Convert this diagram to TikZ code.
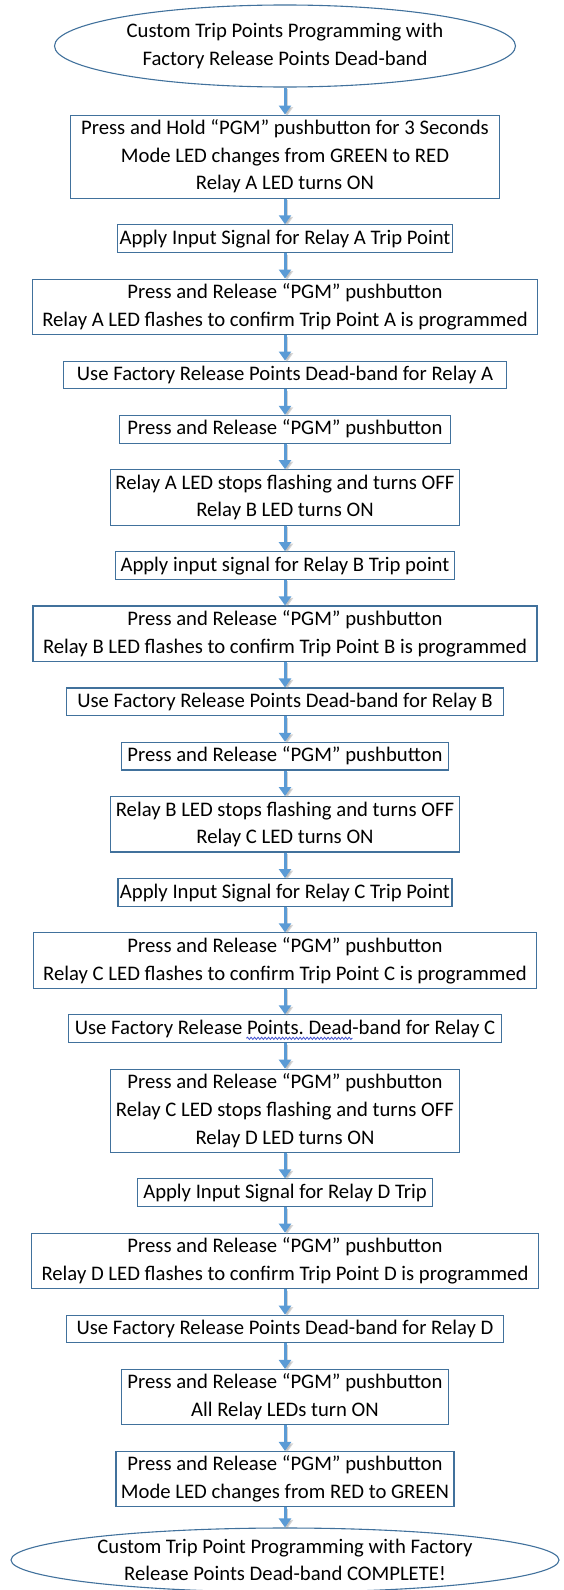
\documentclass[tikz,border=0pt]{standalone}
\usepackage{fontspec}
\setmainfont{Carlito}
\usepackage{tikz}
\usetikzlibrary{shapes.geometric}
\usetikzlibrary{positioning}
\usetikzlibrary{arrows.meta}
\usetikzlibrary{decorations.pathmorphing}
\definecolor{boxblue}{HTML}{41719C}
\definecolor{arrowblue}{HTML}{5B9BD5}
\definecolor{wavyblue}{HTML}{4050D0}

\begin{document}
\begin{tikzpicture}[x=1pt,y=1pt,node distance=25.5pt,font=\fontsize{20.7}{27.7}\selectfont]
    \tikzstyle stepbox=[draw=boxblue,line width=1.1pt,align=center,inner xsep=5pt,inner ysep=0pt,execute at end node=\strut]
    \tikzstyle terminal=[ellipse,draw=boxblue,line width=1.1pt,align=center,inner sep=0pt]
    \tikzstyle flowarrow=[draw=arrowblue,fill=arrowblue,line width=3pt,-{Triangle[length=9pt,width=12pt]},
        preaction={draw=black!45,fill=black!45,opacity=0.35,-{Triangle[length=9pt,width=12pt]},transform canvas={shift={(2pt,-1.5pt)}}}]
    \tikzstyle spellline=[wavyblue,line width=0.8pt,decorate,decoration={snake,amplitude=1.1pt,segment length=3.5pt}]
    \useasboundingbox (0,0) rectangle (563,-1590);
    \node[terminal,minimum width=461pt,minimum height=82pt] (start) at (285,-46) {Custom Trip Points Programming with\\Factory Release Points Dead-band};
    \node[stepbox,inner xsep=11pt,below=27pt of start] (holdpgm) {\strut Press and Hold “PGM” pushbutton for 3 Seconds\\Mode LED changes from GREEN to RED\\Relay A LED turns ON};
    \node[stepbox,inner xsep=2pt,below=of holdpgm] (applya) {\strut Apply Input Signal for Relay A Trip Point};
    \node[stepbox,inner xsep=10pt,below=of applya] (confirma) {\strut Press and Release “PGM” pushbutton\\Relay A LED flashes to confirm Trip Point A is programmed};
    \node[stepbox,inner xsep=13pt,below=of confirma] (deadbanda) {\strut Use Factory Release Points Dead-band for Relay A};
    \node[stepbox,inner xsep=8pt,below=of deadbanda] (releasea) {\strut Press and Release “PGM” pushbutton};
    \node[stepbox,below=of releasea] (switchb) {\strut Relay A LED stops flashing and turns OFF\\Relay B LED turns ON};
    \node[stepbox,below=of switchb] (applyb) {\strut Apply input signal for Relay B Trip point};
    \node[stepbox,inner xsep=10pt,below=of applyb] (confirmb) {\strut Press and Release “PGM” pushbutton\\Relay B LED flashes to confirm Trip Point B is programmed};
    \node[stepbox,inner xsep=11pt,below=of confirmb] (deadbandb) {\strut Use Factory Release Points Dead-band for Relay B};
    \node[stepbox,inner xsep=6pt,below=of deadbandb] (releaseb) {\strut Press and Release “PGM” pushbutton};
    \node[stepbox,below=of releaseb] (switchc) {\strut Relay B LED stops flashing and turns OFF\\Relay C LED turns ON};
    \node[stepbox,inner xsep=2pt,below=of switchc] (applyc) {\strut Apply Input Signal for Relay C Trip Point};
    \node[stepbox,inner xsep=10pt,below=of applyc] (confirmc) {\strut Press and Release “PGM” pushbutton\\Relay C LED flashes to confirm Trip Point C is programmed};
    \node[stepbox,inner xsep=6pt,below=of confirmc] (deadbandc) {\strut Use Factory Release Points.\ Dead-band for Relay C};
    \node[stepbox,below=of deadbandc] (switchd) {\strut Press and Release “PGM” pushbutton\\Relay C LED stops flashing and turns OFF\\Relay D LED turns ON};
    \node[stepbox,inner xsep=6pt,below=of switchd] (applyd) {\strut Apply Input Signal for Relay D Trip};
    \node[stepbox,inner xsep=10pt,below=of applyd] (confirmd) {\strut Press and Release “PGM” pushbutton\\Relay D LED flashes to confirm Trip Point D is programmed};
    \node[stepbox,inner xsep=10pt,below=of confirmd] (deadbandd) {\strut Use Factory Release Points Dead-band for Relay D};
    \node[stepbox,inner xsep=6pt,below=of deadbandd] (allon) {\strut Press and Release “PGM” pushbutton\\All Relay LEDs turn ON};
    \node[stepbox,below=of allon] (finish) {\strut Press and Release “PGM” pushbutton\\Mode LED changes from RED to GREEN};
    \node[terminal,minimum width=548pt,minimum height=64pt,inner ysep=-2pt,below=20pt of finish] (done) {Custom Trip Point Programming with Factory\\Release Points Dead-band COMPLETE!};
    % spell-check squiggle under "Points. Dead"
    \draw[spellline] ([xshift=-38.5pt,yshift=-4pt]deadbandc.base) -- ++(106,0);
    \draw[flowarrow] (start) -- (holdpgm);
    \draw[flowarrow] (holdpgm) -- (applya);
    \draw[flowarrow] (applya) -- (confirma);
    \draw[flowarrow] (confirma) -- (deadbanda);
    \draw[flowarrow] (deadbanda) -- (releasea);
    \draw[flowarrow] (releasea) -- (switchb);
    \draw[flowarrow] (switchb) -- (applyb);
    \draw[flowarrow] (applyb) -- (confirmb);
    \draw[flowarrow] (confirmb) -- (deadbandb);
    \draw[flowarrow] (deadbandb) -- (releaseb);
    \draw[flowarrow] (releaseb) -- (switchc);
    \draw[flowarrow] (switchc) -- (applyc);
    \draw[flowarrow] (applyc) -- (confirmc);
    \draw[flowarrow] (confirmc) -- (deadbandc);
    \draw[flowarrow] (deadbandc) -- (switchd);
    \draw[flowarrow] (switchd) -- (applyd);
    \draw[flowarrow] (applyd) -- (confirmd);
    \draw[flowarrow] (confirmd) -- (deadbandd);
    \draw[flowarrow] (deadbandd) -- (allon);
    \draw[flowarrow] (allon) -- (finish);
    \draw[flowarrow] (finish) -- (done);
\end{tikzpicture}
\end{document}
